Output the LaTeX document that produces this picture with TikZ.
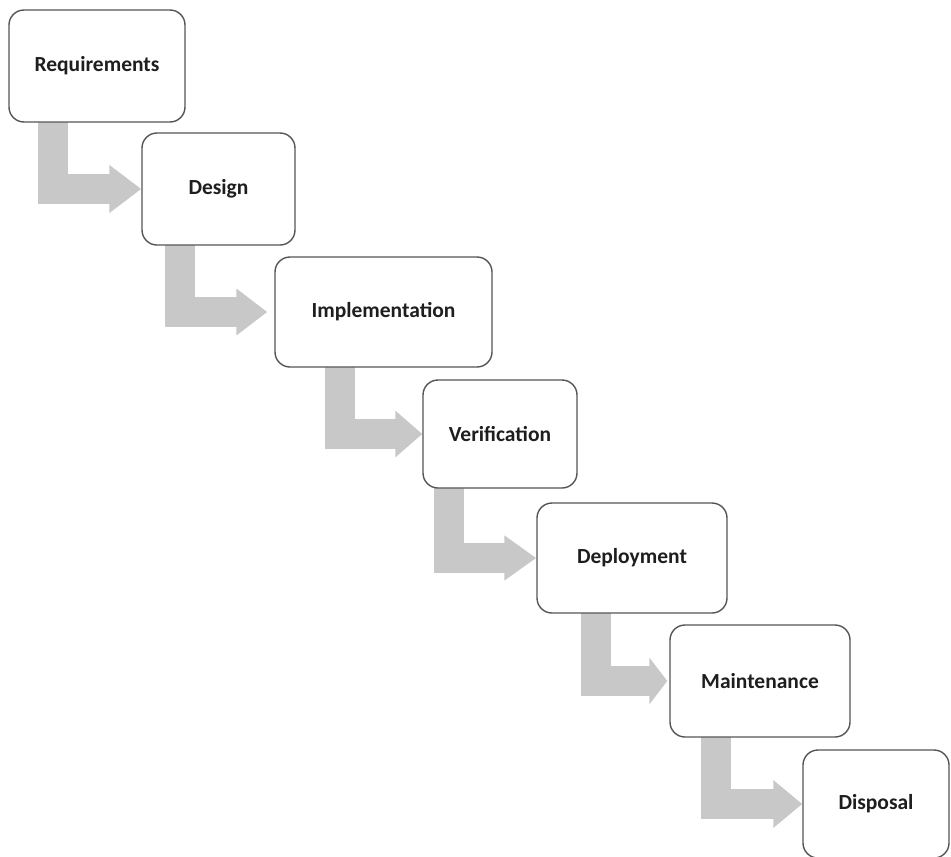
\documentclass[tikz,border=0pt]{standalone}
\usepackage{fontspec}
\setmainfont{Carlito}
\usetikzlibrary{arrows.meta,backgrounds,calc}
\definecolor{flowgray}{RGB}{200,200,200}
\definecolor{boxline}{RGB}{85,85,85}
\definecolor{txt}{RGB}{30,30,30}
\begin{document}
\begin{tikzpicture}[x=1pt,y=-1pt,
  stage/.style={draw=boxline, line width=1.4pt, fill=white, rounded corners=15pt,
    inner sep=0pt, text=txt, font=\fontsize{21.5}{24}\selectfont\bfseries},
  flow/.style={draw=flowgray, line width=30pt, line join=miter, line cap=butt}]
\useasboundingbox (0,0) rectangle (951,857);
\node[stage, minimum width=176pt, minimum height=112pt] (req) at (97,66) {Requirements};
\node[stage, minimum width=153pt, minimum height=112pt] (des) at (218.5,189) {Design};
\node[stage, minimum width=217pt, minimum height=110pt] (imp) at (383.5,312) {Implementation};
\node[stage, minimum width=154pt, minimum height=108pt] (ver) at (500,434) {Verification};
\node[stage, minimum width=190pt, minimum height=110pt] (dep) at (632,558) {Deployment};
\node[stage, minimum width=180pt, minimum height=112pt] (mai) at (760,681) {Maintenance};
\node[stage, minimum width=146pt, minimum height=108pt] (dis) at (876,804) {Disposal};
\begin{scope}[on background layer]
  \draw[flow, -{Triangle[length=32pt,width=46pt]}] (53,0 |- req.center) |- (des.west);
  \draw[flow, -{Triangle[length=31pt,width=45pt]}, shorten >=7pt] (180,0 |- des.center) |- (imp.west);
  \draw[flow, -{Triangle[length=27pt,width=45pt]}] (340,0 |- imp.center) |- (ver.west);
  \draw[flow, -{Triangle[length=32pt,width=43pt]}] (449,0 |- ver.center) |- (dep.west);
  \draw[flow, -{Triangle[length=18pt,width=46pt]}, shorten >=2pt] (596,0 |- dep.center) |- (mai.west);
  \draw[flow, -{Triangle[length=29pt,width=46pt]}] (716,0 |- mai.center) |- (dis.west);
\end{scope}
\end{tikzpicture}
\end{document}
